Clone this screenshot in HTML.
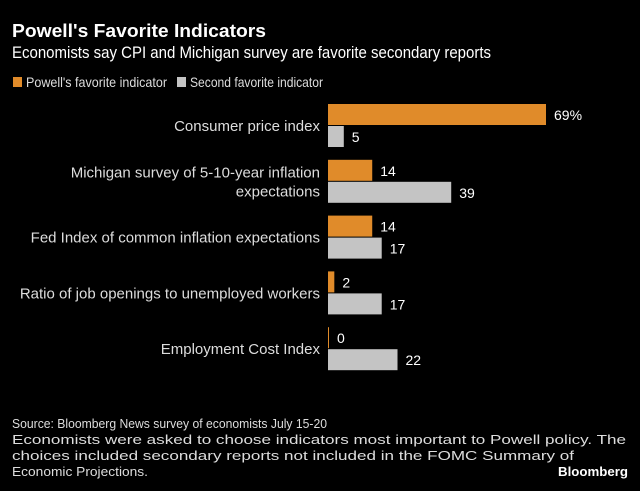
<!DOCTYPE html>
<html><head><meta charset="utf-8"><style>
body{margin:0;background:#000;}
svg{display:block;font-family:"Liberation Sans",sans-serif;}
</style></head><body>
<svg id="chart" width="640" height="491" viewBox="0 0 640 491">
<rect width="640" height="491" fill="#000"/>
<text x="12" y="37" fill="#fff" font-size="18" font-weight="bold" textLength="254" lengthAdjust="spacingAndGlyphs">Powell's Favorite Indicators</text>
<text x="12" y="58" fill="#fff" font-size="17" textLength="479" lengthAdjust="spacingAndGlyphs">Economists say CPI and Michigan survey are favorite secondary reports</text>
<g>
<rect x="13" y="77" width="9" height="10" fill="#e08b2a"/>
<text x="26" y="87" fill="#ddd" font-size="14" textLength="141" lengthAdjust="spacingAndGlyphs">Powell's favorite indicator</text>
<rect x="177" y="77" width="9" height="10" fill="#c4c4c4"/>
<text x="190" y="87" fill="#ddd" font-size="14" textLength="133" lengthAdjust="spacingAndGlyphs">Second favorite indicator</text>
</g>
<g id="bars"></g>
<g fill="#ddd" font-size="13">
<text x="12" y="428" textLength="315" lengthAdjust="spacingAndGlyphs">Source: Bloomberg News survey of economists July 15-20</text>
<text x="12" y="444" textLength="614" lengthAdjust="spacingAndGlyphs">Economists were asked to choose indicators most important to Powell policy. The</text>
<text x="12" y="460" textLength="562" lengthAdjust="spacingAndGlyphs">choices included secondary reports not included in the FOMC Summary of</text>
<text x="12" y="476" textLength="136" lengthAdjust="spacingAndGlyphs">Economic Projections.</text>
</g>
<text x="628" y="476" text-anchor="end" fill="#fff" font-size="13" font-weight="bold" textLength="70" lengthAdjust="spacingAndGlyphs">Bloomberg</text>
</svg>
<script>
const categories=[["Consumer price index"],["Michigan survey of 5-10-year inflation","expectations"],["Fed Index of common inflation expectations"],["Ratio of job openings to unemployed workers"],["Employment Cost Index"]];
const powell=[69,14,14,2,0];
const second=[5,39,17,17,22];
const powellLabels=["69%","14","14","2","0"];
const secondLabels=["5","39","17","17","22"];
const NS="http://www.w3.org/2000/svg";
const g=document.getElementById('bars');
const x0=328, scale=218/69;
const xs=v=>v*scale;
const rowY=i=>104+i*55.8;
function mk(tag,attrs){const e=document.createElementNS(NS,tag);for(const k in attrs)e.setAttribute(k,attrs[k]);g.appendChild(e);return e;}
categories.forEach((c,i)=>{
  const y=rowY(i);
  const wp=Math.max(xs(powell[i]),powell[i]===0?1:0);
  const r1=mk('rect',{x:x0,y:y,width:wp,height:21,fill:'#e08b2a'});
  
  
  const r2=mk('rect',{x:x0,y:y+22,width:xs(second[i]),height:21,fill:'#c4c4c4'});
  
  
  const t1=mk('text',{x:x0+wp+8,y:y+16,fill:'#fff','font-size':14});
  t1.textContent=powellLabels[i];
  
  
  const t2=mk('text',{x:x0+xs(second[i])+8,y:y+38,fill:'#fff','font-size':14});
  t2.textContent=secondLabels[i];
  
  
  const cy=y+22;
  c.forEach((line,j)=>{
    const ly=cy+5+(j-(c.length-1)/2)*19;
    const t=mk('text',{x:320,y:ly,fill:'#ddd','font-size':15,'text-anchor':'end'});
    t.textContent=line;
    
    
  });
});
</script>
</body></html>
